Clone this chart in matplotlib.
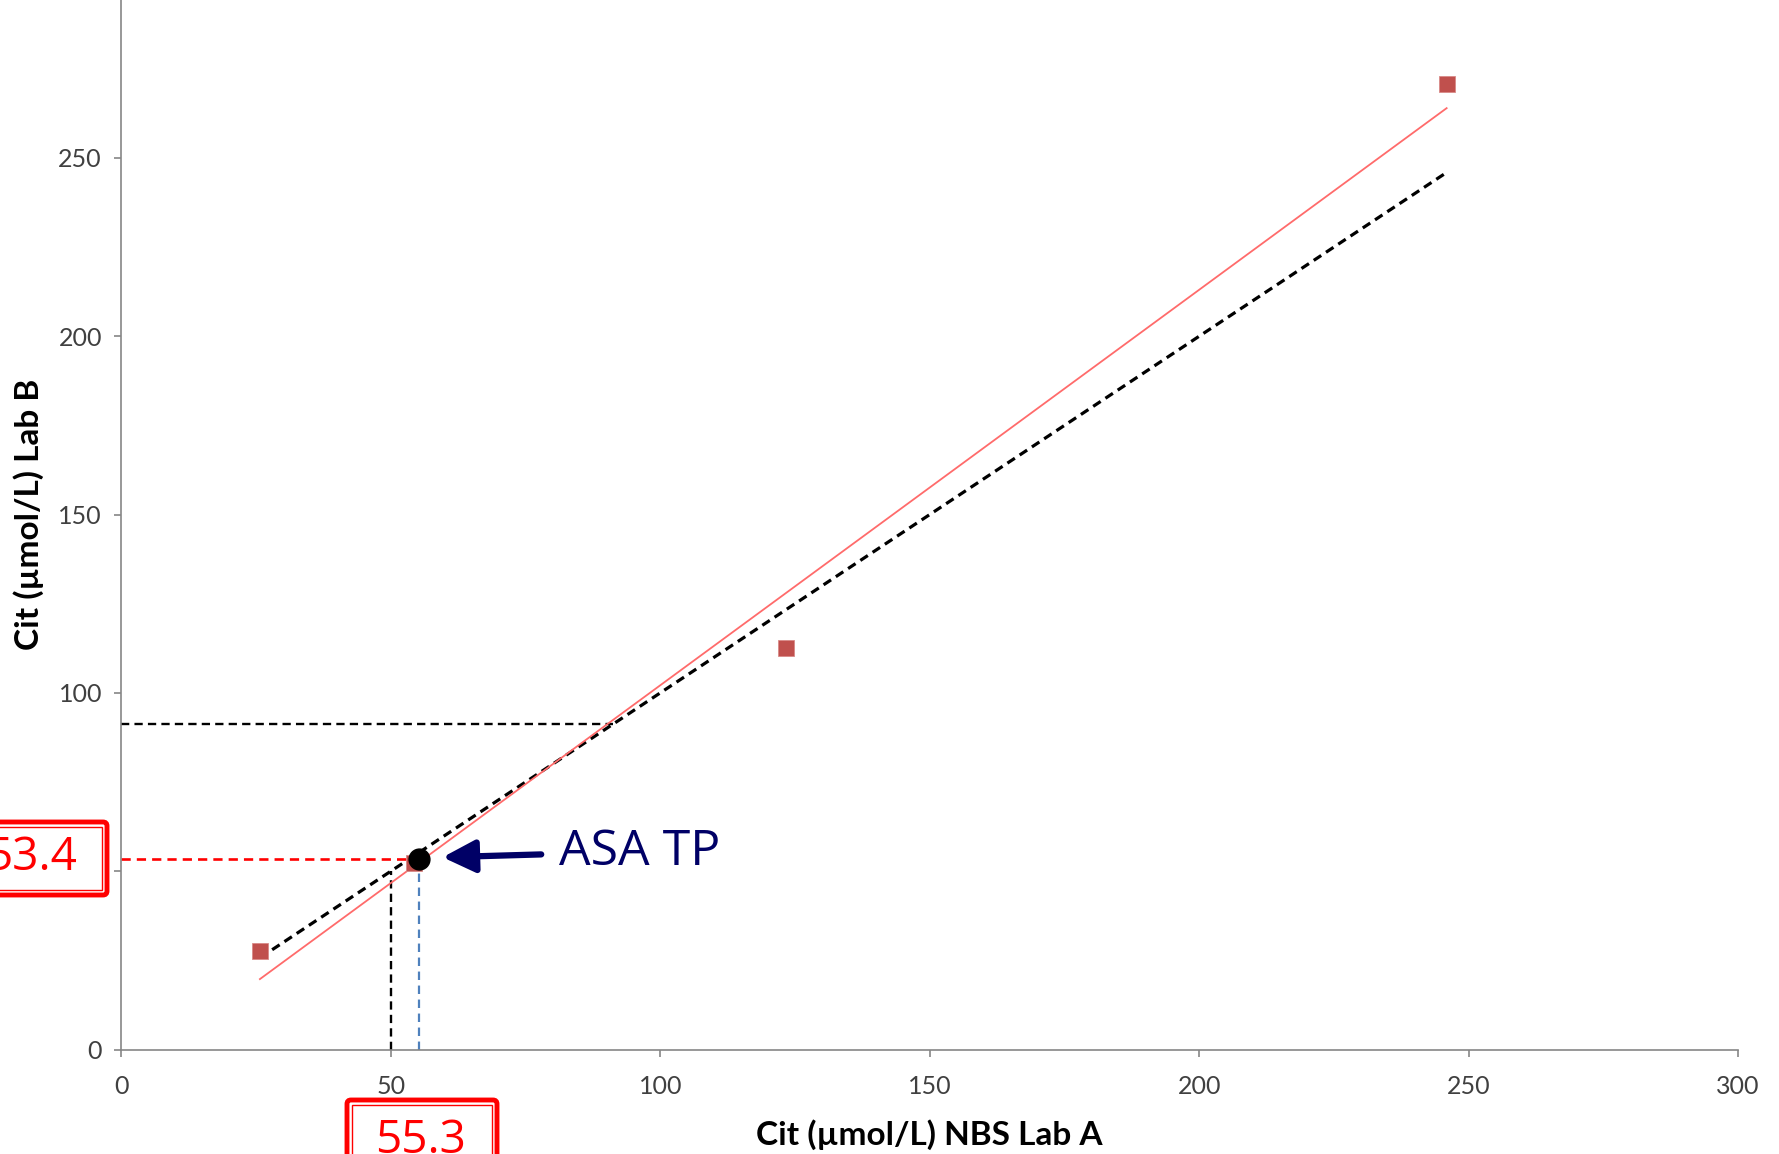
import numpy as np
import matplotlib
matplotlib.use("Agg")
import matplotlib.pyplot as plt
from matplotlib.patches import FancyBboxPatch
from matplotlib.transforms import IdentityTransform

plt.rcParams['font.family'] = ['Lato', 'DejaVu Sans']

# ---- data ----
lab_a = [25.7, 54.3, 123.4, 245.9]      # Cit NBS Lab A
lab_b = [27.7, 52.2, 112.6, 270.7]      # Cit Lab B
asa_tp_x = 55.3
asa_tp_y = 53.4
cutoff_y = 91.3
ref_x = 50.0
x_ticks = [0, 50, 100, 150, 200, 250, 300]
y_ticks = [0, 50, 100, 150, 200, 250, 300]

W, H = 1779, 1154
fig = plt.figure(figsize=(W / 100, H / 100), dpi=100)
ax = fig.add_axes([121.4 / W, (H - 1049.5) / H, 1616.8 / W, 1070.0 / H])
ax.set_xlim(0, 300)
ax.set_ylim(0, 300)

axis_col = '#868686'
for s in ['top', 'right']:
    ax.spines[s].set_visible(False)
for s in ['left', 'bottom']:
    ax.spines[s].set_color(axis_col)
    ax.spines[s].set_linewidth(1.2)
ax.set_xticks(x_ticks)
ax.set_yticks(y_ticks)
ax.tick_params(axis='both', colors=axis_col, length=5, width=1.2, labelsize=18,
               labelcolor='#404040')
ax.tick_params(axis='x', pad=13)
ax.tick_params(axis='y', pad=9)

ax.set_xlabel('Cit (µmol/L) NBS Lab A', fontsize=24, fontweight='bold')
ax.set_ylabel('Cit (µmol/L) Lab B', fontsize=24, fontweight='bold')
ax.xaxis.set_label_coords((929 - 121.4) / 1616.8, (1049.5 - 1119) / 1070.0)
ax.yaxis.set_label_coords((44 - 121.4) / 1616.8, (1049.5 - 514) / 1070.0)

# the y tick label "50" is hidden behind the 53.4 value box in the reference
fig.canvas.draw()
for t in ax.get_yticklabels():
    if t.get_text() == '50':
        t.set_visible(False)

xa = np.array(lab_a)
ya = np.array(lab_b)
xr = np.array([xa.min(), xa.max()])

# identity line (black dashed)
ax.plot(xr, xr, color='black', lw=2.3, dashes=(2.8, 1.8), zorder=3)
# linear regression (red solid)
slope, intercept = np.polyfit(xa, ya, 1)
ax.plot(xr, slope * xr + intercept, color='#FF6B6B', lw=1.3, zorder=3)

# reference dashed lines
ax.plot([0, cutoff_y], [cutoff_y, cutoff_y], color='black', lw=1.7, dashes=(3.5, 2.2), zorder=2)
ax.plot([ref_x, ref_x], [0, ref_x], color='black', lw=1.7, dashes=(3.5, 2.2), zorder=2)
ax.plot([0, asa_tp_x], [asa_tp_y, asa_tp_y], color='#FF0000', lw=1.9, dashes=(3.5, 2.3), zorder=2)
ax.plot([asa_tp_x, asa_tp_x], [0, asa_tp_y], color='#4F81BD', lw=1.6, dashes=(3.8, 2.5), zorder=2)

# data points
ax.plot(xa, ya, 's', color='#C0504D', markersize=11, markeredgecolor='#D98A88',
        markeredgewidth=0.6, zorder=4)
# ASA TP marker
ax.plot([asa_tp_x], [asa_tp_y], 'o', color='black', markersize=15, zorder=5)

# arrow + label
navy = '#000066'
ax.annotate('', xy=(59.6, 53.9), xytext=(77.9, 54.7),
            arrowprops=dict(arrowstyle='-|>,head_length=0.9,head_width=0.45',
                            lw=4.5, color=navy, shrinkA=0, shrinkB=0,
                            mutation_scale=22), zorder=6)
ax.text(81.2, 55.3, 'ASA TP', color=navy, fontsize=36, va='center', ha='left',
        family=['Open Sans', 'DejaVu Sans'], zorder=6)

# value boxes (double red border), drawn in pixel coordinates
def value_box(x0, y0_top, w, h, label, tx, ty_base, ha):
    yb = H - (y0_top + h)
    outer = FancyBboxPatch((x0, yb), w, h, boxstyle='round,pad=0,rounding_size=4',
                           transform=IdentityTransform(), facecolor='white',
                           edgecolor='#FF0000', lw=3.5, zorder=10)
    inner = FancyBboxPatch((x0 + 5, yb + 5), w - 10, h - 10, boxstyle='square,pad=0',
                           transform=IdentityTransform(), facecolor='white',
                           edgecolor='#FF0000', lw=1.0, zorder=11)
    fig.patches.extend([outer, inner])
    fig.text(tx / W, (H - ty_base) / H, label, color='#FF0000', fontsize=33,
             ha=ha, va='baseline', family=['Open Sans', 'DejaVu Sans'], zorder=12)

value_box(-45, 822, 152, 73, f'{asa_tp_y}', 77, 870, 'right')
value_box(347, 1100, 150, 80, f'{asa_tp_x}', 421, 1153, 'center')

fig.savefig('out.png', dpi=100)
